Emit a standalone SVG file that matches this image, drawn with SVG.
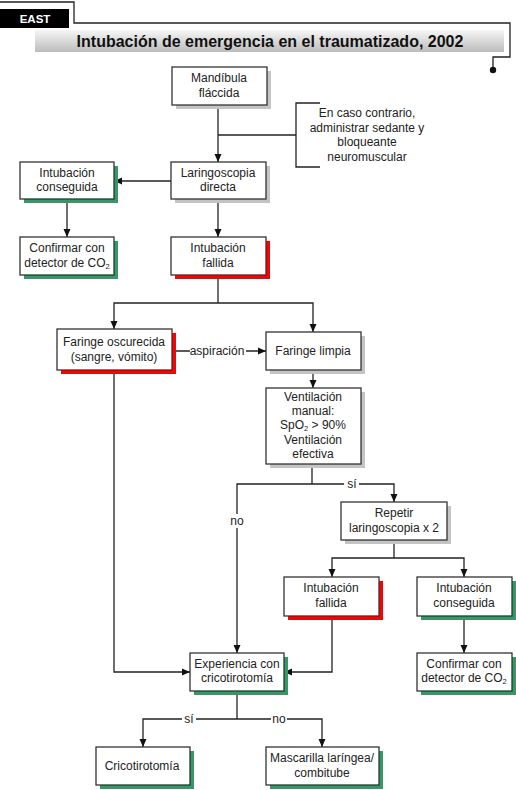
<svg xmlns="http://www.w3.org/2000/svg" width="516" height="790" viewBox="0 0 516 790">
<defs>
<linearGradient id="tg" x1="0" y1="0" x2="0" y2="1">
<stop offset="0" stop-color="#f6f6f6"/>
<stop offset="1" stop-color="#bcbcbc"/>
</linearGradient>
<marker id="ar" markerWidth="8" markerHeight="8" refX="8" refY="4" orient="auto" markerUnits="userSpaceOnUse">
<path d="M0,0.5 L8,4 L0,7.5 z" fill="#111"/>
</marker>
<style>
.box{fill:#fff;stroke:#333;stroke-width:1.3}
.sg{fill:#c4c4c4}
.sr{fill:#ff0000}
.sv{fill:#339966}
.t{font-family:"Liberation Sans",Arial,sans-serif;font-size:12px;fill:#222;text-anchor:middle}
.sub{font-size:7.5px}
.c{fill:none;stroke:#222;stroke-width:1.3}
.ca{fill:none;stroke:#222;stroke-width:1.3;marker-end:url(#ar)}
.lb{fill:#fff}
</style>
</defs>
<rect width="516" height="790" fill="#fff"/>

<g id="header">
<path class="c" d="M0,2 H74 V23 H510 V57 H493 V69"/>
<circle cx="493" cy="70" r="3.2" fill="#111"/>
<rect x="0" y="9" width="69" height="19" fill="#000"/>
<text x="35" y="23" font-family="Liberation Sans,Arial,sans-serif" font-size="11.5" font-weight="bold" fill="#fff" text-anchor="middle">EAST</text>
<rect x="35" y="30" width="469" height="22" fill="url(#tg)"/>
<text x="270" y="47" font-family="Liberation Sans,Arial,sans-serif" font-size="16" font-weight="bold" fill="#111" text-anchor="middle">Intubación de emergencia en el traumatizado, 2002</text>
</g>

<g id="connectors">
<path class="ca" d="M218,105 V162"/>
<path class="c" d="M218,135 H296"/>
<path class="c" d="M320,103 H296 V167 H320"/>
<path class="ca" d="M171,181 H114"/>
<path class="ca" d="M67,199 V237"/>
<path class="ca" d="M218,199 V237"/>
<path class="c" d="M218,275 V303"/>
<path class="ca" d="M218,303 H114 V329"/>
<path class="ca" d="M218,303 H313 V332"/>
<path class="ca" d="M172,351 H266"/>
<path class="ca" d="M313,370 V388"/>
<path class="ca" d="M114,370 V672 H190"/>
<path class="c" d="M312,464 V484"/>
<path class="ca" d="M312,484 H394 V502"/>
<path class="ca" d="M312,484 H237 V653"/>
<path class="c" d="M394,540 V558"/>
<path class="ca" d="M394,558 H332 V577"/>
<path class="ca" d="M394,558 H464 V577"/>
<path class="ca" d="M464,616 V653"/>
<path class="ca" d="M332,616 V672 H284"/>
<path class="c" d="M237,691 V719"/>
<path class="ca" d="M237,719 H143 V747"/>
<path class="ca" d="M237,719 H322 V747"/>
<rect class="lb" x="190" y="344" width="56" height="14"/>
<text class="t" x="217" y="355">aspiración</text>
<rect class="lb" x="344" y="477" width="15" height="14"/>
<text class="t" x="352" y="488">sí</text>
<rect class="lb" x="229" y="514" width="16" height="14"/>
<text class="t" x="237" y="525">no</text>
<rect class="lb" x="182" y="712" width="14" height="14"/>
<text class="t" x="189" y="723">sí</text>
<rect class="lb" x="271" y="712" width="16" height="14"/>
<text class="t" x="279" y="723">no</text>
</g>

<g id="mandibula">
<rect class="sg" x="176" y="71" width="95" height="38"/>
<rect class="box" x="172" y="67" width="95" height="38"/>
<text class="t" x="219" y="82">Mandíbula</text>
<text class="t" x="219" y="97">fláccida</text>
</g>

<g id="nota">
<text class="t" x="367" y="117">En caso contrario,</text>
<text class="t" x="367" y="132">administrar sedante y</text>
<text class="t" x="367" y="146">bloqueante</text>
<text class="t" x="367" y="161">neuromuscular</text>
</g>

<g id="laringoscopia">
<rect class="sg" x="175" y="166" width="95" height="37"/>
<rect class="box" x="171" y="162" width="95" height="37"/>
<text class="t" x="218" y="177">Laringoscopia</text>
<text class="t" x="218" y="191">directa</text>
</g>

<g id="conseguida1">
<rect class="sv" x="24" y="166" width="94" height="37"/>
<rect class="box" x="20" y="162" width="94" height="37"/>
<text class="t" x="67" y="177">Intubación</text>
<text class="t" x="67" y="191">conseguida</text>
</g>

<g id="confirmar1">
<rect class="sv" x="24" y="241" width="94" height="38"/>
<rect class="box" x="20" y="237" width="94" height="38"/>
<text class="t" x="67" y="252">Confirmar con</text>
<text class="t" x="67" y="267">detector de CO<tspan class="sub" dy="2">2</tspan></text>
</g>

<g id="fallida1">
<rect class="sr" x="175" y="241" width="95" height="38"/>
<rect class="box" x="171" y="237" width="95" height="38"/>
<text class="t" x="218" y="252">Intubación</text>
<text class="t" x="218" y="267">fallida</text>
</g>

<g id="oscurecida">
<rect class="sr" x="61" y="333" width="115" height="41"/>
<rect class="box" x="57" y="329" width="115" height="41"/>
<text class="t" x="114" y="346">Faringe oscurecida</text>
<text class="t" x="114" y="361">(sangre, vómito)</text>
</g>

<g id="limpia">
<rect class="sg" x="270" y="336" width="95" height="38"/>
<rect class="box" x="266" y="332" width="95" height="38"/>
<text class="t" x="313" y="355">Faringe limpia</text>
</g>

<g id="ventilacion">
<rect class="sg" x="270" y="392" width="95" height="76"/>
<rect class="box" x="266" y="388" width="95" height="76"/>
<text class="t" x="313" y="401">Ventilación</text>
<text class="t" x="313" y="415">manual:</text>
<text class="t" x="313" y="429">SpO<tspan class="sub" dy="2">2</tspan><tspan dy="-2"> &gt; 90%</tspan></text>
<text class="t" x="313" y="444">Ventilación</text>
<text class="t" x="313" y="458">efectiva</text>
</g>

<g id="repetir">
<rect class="sg" x="345" y="506" width="106" height="38"/>
<rect class="box" x="341" y="502" width="106" height="38"/>
<text class="t" x="394" y="517">Repetir</text>
<text class="t" x="394" y="532">laringoscopia x 2</text>
</g>

<g id="fallida2">
<rect class="sr" x="288" y="581" width="95" height="39"/>
<rect class="box" x="284" y="577" width="95" height="39"/>
<text class="t" x="331" y="592">Intubación</text>
<text class="t" x="331" y="607">fallida</text>
</g>

<g id="conseguida2">
<rect class="sv" x="421" y="581" width="95" height="39"/>
<rect class="box" x="417" y="577" width="95" height="39"/>
<text class="t" x="464" y="592">Intubación</text>
<text class="t" x="464" y="607">conseguida</text>
</g>

<g id="experiencia">
<rect class="sv" x="194" y="657" width="94" height="38"/>
<rect class="box" x="190" y="653" width="94" height="38"/>
<text class="t" x="237" y="668">Experiencia con</text>
<text class="t" x="237" y="682">cricotirotomía</text>
</g>

<g id="confirmar2">
<rect class="sv" x="421" y="657" width="95" height="38"/>
<rect class="box" x="417" y="653" width="95" height="38"/>
<text class="t" x="464" y="668">Confirmar con</text>
<text class="t" x="464" y="682">detector de CO<tspan class="sub" dy="2">2</tspan></text>
</g>

<g id="cricotirotomia">
<rect class="sv" x="100" y="751" width="94" height="38"/>
<rect class="box" x="96" y="747" width="94" height="38"/>
<text class="t" x="142" y="770">Cricotirotomía</text>
</g>

<g id="mascarilla">
<rect class="sv" x="270" y="751" width="113" height="38"/>
<rect class="box" x="266" y="747" width="113" height="38"/>
<text class="t" x="322" y="762">Mascarilla laríngea/</text>
<text class="t" x="322" y="777">combitube</text>
</g>
</svg>
